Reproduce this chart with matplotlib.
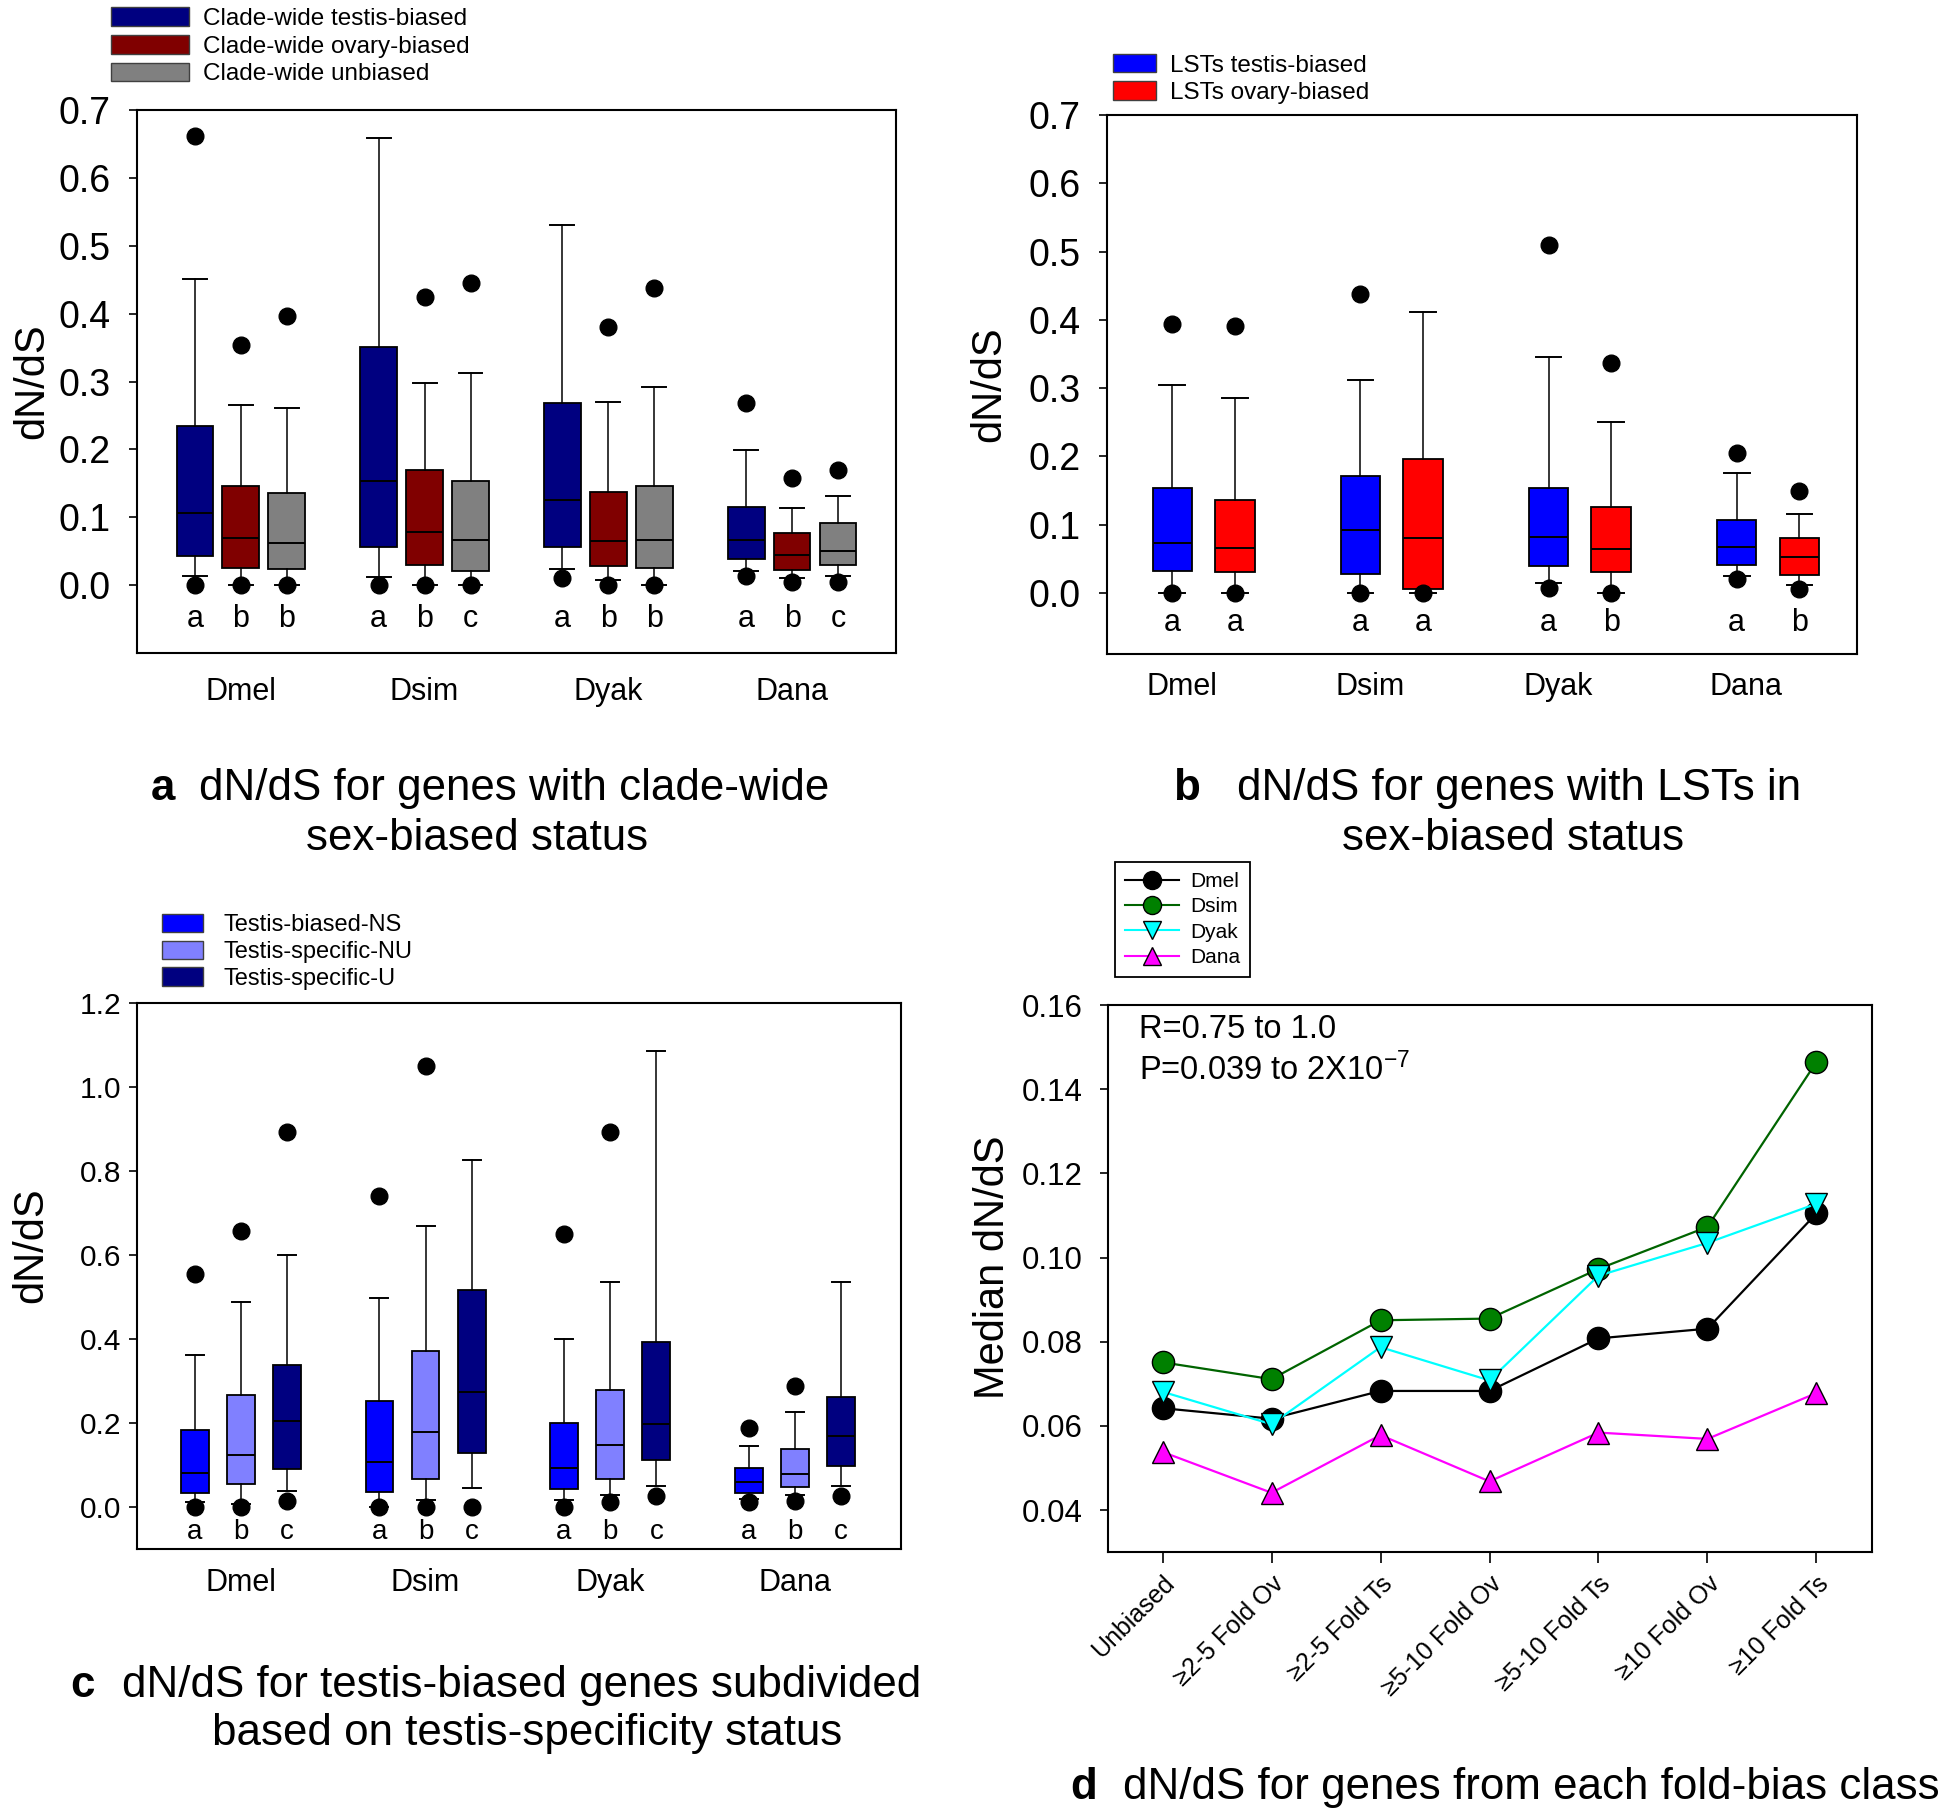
"""
Four-panel dN/dS figure: three box-plot panels (a-c) and a line panel (d).
Box statistics are read off the published figure and drawn with Axes.bxp.
"""

import matplotlib

matplotlib.use("Agg")
import matplotlib.pyplot as plt  # noqa: E402
from matplotlib.lines import Line2D  # noqa: E402
from matplotlib.patches import Patch  # noqa: E402
from matplotlib.ticker import FormatStrFormatter  # noqa: E402

plt.rcParams["font.family"] = ["Liberation Sans", "DejaVu Sans"]
plt.rcParams["mathtext.default"] = "regular"

SPECIES = ["Dmel", "Dsim", "Dyak", "Dana"]

# --------------------------------------------------------------------------- #
# Panel a: clade-wide sex-biased status
# --------------------------------------------------------------------------- #
A_NAMES = ["Clade-wide testis-biased", "Clade-wide ovary-biased",
           "Clade-wide unbiased"]
A_MED = [[0.107, 0.154, 0.126, 0.066],
         [0.069, 0.079, 0.065, 0.045],
         [0.062, 0.066, 0.067, 0.050]]
A_Q1 = [[0.043, 0.056, 0.056, 0.039],
        [0.026, 0.030, 0.028, 0.023],
        [0.024, 0.021, 0.026, 0.029]]
A_Q3 = [[0.235, 0.351, 0.269, 0.115],
        [0.146, 0.170, 0.137, 0.077],
        [0.136, 0.154, 0.146, 0.091]]
A_LO = [[0.013, 0.012, 0.024, 0.021],
        [0.000, 0.000, 0.008, 0.010],
        [0.000, 0.000, 0.000, 0.013]]
A_HI = [[0.451, 0.659, 0.530, 0.199],
        [0.265, 0.298, 0.270, 0.114],
        [0.261, 0.313, 0.292, 0.132]]
A_OUT = [[[0.662, 0.0], [0.0], [0.010], [0.268, 0.014]],
         [[0.354, 0.0], [0.425, 0.0], [0.380, 0.0], [0.158, 0.005]],
         [[0.396, 0.0], [0.445, 0.0], [0.438, 0.0], [0.170, 0.005]]]
A_LETTERS = [["a", "a", "a", "a"], ["b", "b", "b", "b"], ["b", "c", "b", "c"]]

# --------------------------------------------------------------------------- #
# Panel b: LSTs in sex-biased status
# --------------------------------------------------------------------------- #
B_NAMES = ["LSTs testis-biased", "LSTs ovary-biased"]
B_MED = [[0.073, 0.092, 0.082, 0.067],
         [0.066, 0.080, 0.064, 0.053]]
B_Q1 = [[0.032, 0.028, 0.039, 0.041],
        [0.031, 0.005, 0.030, 0.026]]
B_Q3 = [[0.153, 0.171, 0.153, 0.106],
        [0.136, 0.196, 0.126, 0.080]]
B_LO = [[0.000, 0.000, 0.014, 0.024],
        [0.000, 0.000, 0.000, 0.012]]
B_HI = [[0.305, 0.312, 0.345, 0.176],
        [0.285, 0.411, 0.250, 0.115]]
B_OUT = [[[0.394, 0.0], [0.438, 0.0], [0.510, 0.007], [0.205, 0.020]],
         [[0.391, 0.0], [0.0], [0.337, 0.0], [0.149, 0.005]]]
B_LETTERS = [["a", "a", "a", "a"], ["a", "a", "b", "b"]]

# --------------------------------------------------------------------------- #
# Panel c: testis-specificity status
# --------------------------------------------------------------------------- #
C_NAMES = ["Testis-biased-NS", "Testis-specific-NU", "Testis-specific-U"]
C_MED = [[0.081, 0.107, 0.093, 0.060],
         [0.124, 0.178, 0.148, 0.079],
         [0.205, 0.274, 0.197, 0.169]]
C_Q1 = [[0.034, 0.036, 0.043, 0.034],
        [0.054, 0.067, 0.067, 0.047],
        [0.091, 0.128, 0.111, 0.097]]
C_Q3 = [[0.184, 0.252, 0.201, 0.093],
        [0.266, 0.371, 0.279, 0.137],
        [0.338, 0.516, 0.393, 0.263]]
C_LO = [[0.011, 0.000, 0.017, 0.020],
        [0.006, 0.017, 0.028, 0.028],
        [0.039, 0.045, 0.049, 0.049]]
C_HI = [[0.362, 0.498, 0.400, 0.145],
        [0.489, 0.668, 0.535, 0.225],
        [0.599, 0.826, 1.085, 0.535]]
C_OUT = [[[0.554, 0.0], [0.740, 0.0], [0.651, 0.0], [0.187, 0.011]],
         [[0.658, 0.0], [1.049, 0.0], [0.893, 0.011], [0.288, 0.015]],
         [[0.893, 0.015], [0.0], [0.025], [0.025]]]
C_LETTERS = [["a", "a", "a", "a"], ["b", "b", "b", "b"], ["c", "c", "c", "c"]]

# --------------------------------------------------------------------------- #
# Panel d: median dN/dS per fold-bias class
# --------------------------------------------------------------------------- #
D_CLASSES = ["Unbiased", "≥2-5 Fold Ov", "≥2-5 Fold Ts", "≥5-10 Fold Ov",
             "≥5-10 Fold Ts", "≥10 Fold Ov", "≥10 Fold Ts"]
D_DMEL = [0.0642, 0.0617, 0.0683, 0.0683, 0.0808, 0.0831, 0.1105]
D_DSIM = [0.0751, 0.0711, 0.0851, 0.0855, 0.0973, 0.1073, 0.1465]
D_DYAK = [0.0681, 0.0604, 0.0787, 0.0708, 0.0957, 0.1035, 0.1128]
D_DANA = [0.0538, 0.0441, 0.0578, 0.0468, 0.0584, 0.0569, 0.0678]


def box_panel(ax, med, q1, q3, lo, hi, out, letters, colors,
              step, width, letter_y, letter_size, label_shift=0.0):
    for k, color in enumerate(colors):
        stats = [dict(med=med[k][g], q1=q1[k][g], q3=q3[k][g],
                      whislo=lo[k][g], whishi=hi[k][g], fliers=out[k][g])
                 for g in range(len(SPECIES))]
        pos = [g * step + k for g in range(len(SPECIES))]
        ax.bxp(stats, positions=pos, widths=width, capwidths=width * 0.65,
               patch_artist=True,
               boxprops=dict(facecolor=color, edgecolor="black", linewidth=1.3),
               medianprops=dict(color="black", linewidth=1.4),
               whiskerprops=dict(color="black", linewidth=1.1),
               capprops=dict(color="black", linewidth=1.4),
               flierprops=dict(marker="o", markerfacecolor="black",
                               markeredgecolor="black", markersize=12))
        for p, lab in zip(pos, letters[k]):
            ax.text(p, letter_y, lab, ha="center", va="center",
                    fontsize=letter_size)
    n = len(colors)
    ax.set_xticks([g * step + (n - 1) / 2 + label_shift
                   for g in range(len(SPECIES))])
    ax.set_xticklabels(SPECIES, fontsize=22)
    ax.tick_params(axis="x", length=0)
    ax.tick_params(axis="y", direction="out", length=6, width=1.2)
    for sp in ax.spines.values():
        sp.set_linewidth(1.5)


fig = plt.figure(figsize=(19.46, 18.17), dpi=100)

# ---- a ----
ax_a = fig.add_axes([0.0704, 0.6406, 0.390, 0.2988])
col_a = ["#000080", "#800000", "#808080"]
box_panel(ax_a, A_MED, A_Q1, A_Q3, A_LO, A_HI, A_OUT, A_LETTERS, col_a,
          4, 0.8, -0.05, 22)
ax_a.set_xlim(-1.26, 15.26)
ax_a.set_ylim(-0.1, 0.7)
ax_a.set_yticks([0.0, 0.1, 0.2, 0.3, 0.4, 0.5, 0.6, 0.7])
ax_a.yaxis.set_major_formatter(FormatStrFormatter("%.1f"))
ax_a.tick_params(axis="y", labelsize=27, pad=13)
ax_a.tick_params(axis="x", pad=17)
ax_a.set_ylabel("dN/dS", fontsize=30)
ax_a.yaxis.set_label_coords(-0.112, 0.5)
fig.legend([Patch(facecolor=c, edgecolor="#404040") for c in col_a], A_NAMES,
           loc="upper left", bbox_to_anchor=(0.0496, 1.004), frameon=False,
           fontsize=17.5, handlelength=3.2, handleheight=0.8,
           handletextpad=0.6, labelspacing=0.2, borderpad=0.1)

# ---- b ----
ax_b = fig.add_axes([0.5689, 0.640, 0.3854, 0.2966])
col_b = ["#0000FF", "#FF0000"]
box_panel(ax_b, B_MED, B_Q1, B_Q3, B_LO, B_HI, B_OUT, B_LETTERS, col_b,
          3, 0.63, -0.044, 22, label_shift=-0.35)
ax_b.set_xlim(-1.04, 10.92)
ax_b.set_ylim(-0.09, 0.7)
ax_b.set_yticks([0.0, 0.1, 0.2, 0.3, 0.4, 0.5, 0.6, 0.7])
ax_b.yaxis.set_major_formatter(FormatStrFormatter("%.1f"))
ax_b.tick_params(axis="y", labelsize=27, pad=13)
ax_b.tick_params(axis="x", pad=13)
ax_b.set_ylabel("dN/dS", fontsize=30)
ax_b.yaxis.set_label_coords(-0.131, 0.5)
fig.legend([Patch(facecolor=c, edgecolor="#404040") for c in col_b], B_NAMES,
           loc="upper left", bbox_to_anchor=(0.5646, 0.9784), frameon=False,
           fontsize=17.5, handlelength=1.75, handleheight=0.8,
           handletextpad=0.6, labelspacing=0.2, borderpad=0.1)

# ---- c ----
ax_c = fig.add_axes([0.0704, 0.1475, 0.3926, 0.3005])
col_c = ["#0000FF", "#8080FF", "#000080"]
box_panel(ax_c, C_MED, C_Q1, C_Q3, C_LO, C_HI, C_OUT, C_LETTERS, col_c,
          4, 0.6, -0.059, 20)
ax_c.set_xlim(-1.25, 15.3)
ax_c.set_ylim(-0.1, 1.2)
ax_c.set_yticks([0.0, 0.2, 0.4, 0.6, 0.8, 1.0, 1.2])
ax_c.yaxis.set_major_formatter(FormatStrFormatter("%.1f"))
ax_c.tick_params(axis="y", labelsize=21.5, pad=5)
ax_c.tick_params(axis="x", pad=14)
ax_c.set_ylabel("dN/dS", fontsize=30)
ax_c.yaxis.set_label_coords(-0.112, 0.557)
fig.legend([Patch(facecolor=c, edgecolor="#404040") for c in col_c], C_NAMES,
           loc="upper left", bbox_to_anchor=(0.076, 0.505), frameon=False,
           fontsize=17, handlelength=1.75, handleheight=0.8,
           handletextpad=0.85, labelspacing=0.2, borderpad=0.1)

# ---- d ----
ax_d = fig.add_axes([0.5694, 0.1458, 0.3926, 0.301])
x = list(range(len(D_CLASSES)))
ax_d.plot(x, D_DMEL, color="black", lw=1.6, marker="o", ms=16,
          mfc="black", mec="black", label="Dmel")
ax_d.plot(x, D_DSIM, color="#006400", lw=1.6, marker="o", ms=16,
          mfc="#008000", mec="black", label="Dsim")
ax_d.plot(x, D_DYAK, color="#00FFFF", lw=1.6, marker="v", ms=16,
          mfc="#00FFFF", mec="black", label="Dyak")
ax_d.plot(x, D_DANA, color="#FF00FF", lw=1.6, marker="^", ms=16,
          mfc="#FF00FF", mec="black", label="Dana")
ax_d.set_xlim(-0.5, 6.51)
ax_d.set_ylim(0.03, 0.16)
ax_d.set_yticks([0.04, 0.06, 0.08, 0.10, 0.12, 0.14, 0.16])
ax_d.yaxis.set_major_formatter(FormatStrFormatter("%.2f"))
ax_d.set_xticks(x)
ax_d.set_xticklabels(D_CLASSES, rotation=45, ha="right",
                     rotation_mode="anchor", fontsize=18)
ax_d.tick_params(axis="y", labelsize=22.5, direction="out", length=6,
                 width=1.2, pad=12)
ax_d.tick_params(axis="x", direction="out", length=8, width=1.2, pad=6)
for sp in ax_d.spines.values():
    sp.set_linewidth(1.5)
ax_d.set_ylabel("Median dN/dS", fontsize=30)
ax_d.yaxis.set_label_coords(-0.124, 0.52)
ax_d.text(0.041, 0.956, "R=0.75 to 1.0", transform=ax_d.transAxes,
          fontsize=23.5, va="center")
ax_d.text(0.041, 0.882, "P=0.039 to 2X10$^{-7}$", transform=ax_d.transAxes,
          fontsize=23.5, va="center")
d_handles = [Line2D([], [], color="black", marker="o", ms=13, mfc="black",
                    mec="black"),
             Line2D([], [], color="#006400", marker="o", ms=13, mfc="#008000",
                    mec="black"),
             Line2D([], [], color="#00FFFF", marker="v", ms=13, mfc="#00FFFF",
                    mec="black"),
             Line2D([], [], color="#FF00FF", marker="^", ms=13, mfc="#FF00FF",
                    mec="black")]
leg_d = fig.legend(d_handles, ["Dmel", "Dsim", "Dyak", "Dana"],
                   loc="upper left", bbox_to_anchor=(0.5675, 0.5315),
                   fontsize=15, handlelength=2.6, labelspacing=0.3,
                   handletextpad=0.5, borderpad=0.5, fancybox=False,
                   edgecolor="black", framealpha=1)
leg_d.get_frame().set_linewidth(1.3)

# ---- panel captions ----
TITLE = 31.6
fig.text(0.0776, 0.5658, "a", fontsize=TITLE, fontweight="bold", va="center")
fig.text(0.1022, 0.5658, "dN/dS for genes with clade-wide", fontsize=TITLE,
         va="center")
fig.text(0.245, 0.5388, "sex-biased status", fontsize=TITLE, va="center",
         ha="center")
fig.text(0.6028, 0.5658, "b", fontsize=TITLE, fontweight="bold", va="center")
fig.text(0.6358, 0.5658, "dN/dS for genes with LSTs in", fontsize=TITLE,
         va="center")
fig.text(0.7775, 0.5383, "sex-biased status", fontsize=TITLE, va="center",
         ha="center")
fig.text(0.036, 0.0726, "c", fontsize=TITLE, fontweight="bold", va="center")
fig.text(0.0627, 0.0726, "dN/dS for testis-biased genes subdivided",
         fontsize=TITLE, va="center")
fig.text(0.271, 0.0457, "based on testis-specificity status", fontsize=TITLE,
         va="center", ha="center")
fig.text(0.5498, 0.0165, "d", fontsize=TITLE, fontweight="bold", va="center")
fig.text(0.577, 0.0165, "dN/dS for genes from each fold-bias class",
         fontsize=TITLE, va="center")

fig.savefig("out.png", dpi=100)
